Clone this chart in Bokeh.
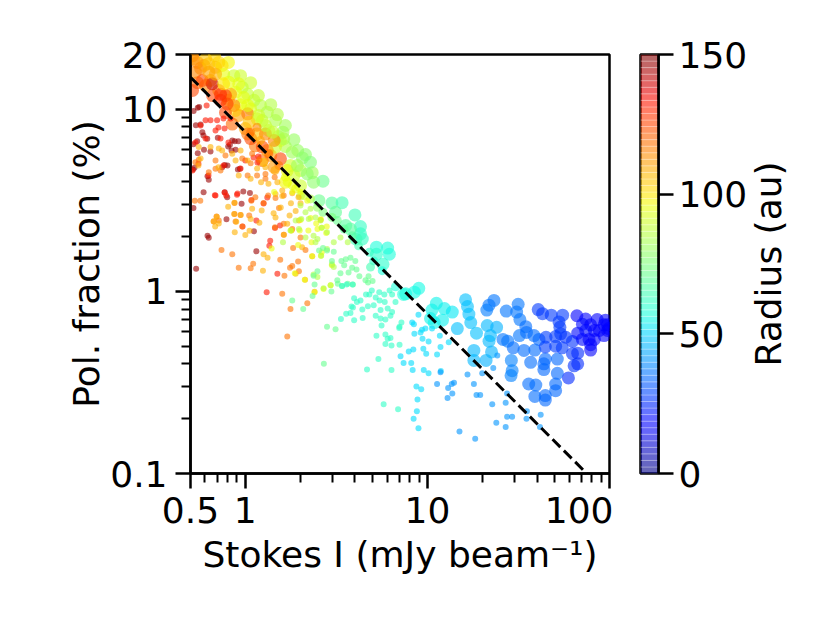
import numpy as np
from bokeh.plotting import figure
from bokeh.layouts import row
from bokeh.core.properties import value
from bokeh.models import FixedTicker, CustomJSTickFormatter, LinearColorMapper, ColumnDataSource
from bokeh.embed import file_html
from bokeh.resources import INLINE

# ---------- data: Stokes I (mJy/beam), polarisation fraction (%), radius (au) ----------
maroon_I = [.535,.568,.581,.589,.544,.519,.618,.706,.848,.875,.823,.805,.915,.84,.884,.548,.593,.644,.515,.526,.771,.798,.747,.91,.934,.62,.63,.59,.771,.975,1.06,.795,.954,.519,.788,.62,.63,1.115,.537,.548,.52,.558,1.15]
maroon_P = [8.18,8.25,7.49,7.18,6.68,6.43,6.89,6.97,6.74,6.68,6.39,6.25,6.68,5.94,5.99,5.74,5.99,5.87,4.67,4.77,4.95,4.91,4.81,4.67,4.71,4.29,4.1,3.5,3.5,3.54,3.47,3.29,3.03,2.87,2.49,2.02,1.97,2.14,1.33,10.2,9.8,10.3,1.66]
maroon_R = 146

red_I = [.613,.644,.605,.70,.759,.568,.83,.769,.686,.712,.605,.731,.532,.808,1.0,1.11,1.18,1.165,.553,.513,.759,.942,.628,.686,.769,.906,.68,.785,.90,1.08,1.26,1.32,1.15,.966,1.455,1.55,1.37,1.355,1.31,1.5]
red_P = [10.5,8.7,8.7,8.7,8.9,8.15,8.9,7.84,7.65,7.94,6.91,6.91,6.57,6.57,5.23,5.44,5.5,5.1,5.03,4.61,4.91,4.73,4.33,3.36,3.49,3.45,3.37,3.36,3.4,3.18,3.04,3.28,2.45,2.27,2.23,2.3,1.90,1.78,.99,1.25]
red_R = 133

orange_I = [.555,.532,.528,.566,.63,.686,.731,.686,.778,1.09,.962,1.07,1.195,1.29,1.03,1.16,1.29,1.45,1.335,1.135,1.465,1.625,1.08,.872,1.26,1.53,.872,.942,.695,.67,.715,.884,.962,1.05,1.455,1.625,1.81,.74,.848,.92,1.07,1.105,1.555,1.76,1.81,1.95,1.97,1.64,1.595,1.77,1.70,2.19,1.83,2.14,1.625,2.01]
orange_P = [5.28,5.12,3.15,3.15,4.51,4.71,4.61,5.23,5.57,5.71,5.37,5.06,5.28,4.42,4.33,4.33,4.15,4.24,3.36,3.29,3.26,3.36,3.15,3.06,3.06,2.87,2.66,2.63,2.58,2.42,2.45,2.42,2.27,2.61,2.25,2.35,2.2,1.69,1.6,1.35,1.34,1.42,1.49,1.35,1.38,1.46,1.29,1.22,.97,.80,.565,.86,1.73,1.69,2.05,1.98]
orange_R = 118

amber_I = [.805,.872,.942,.869,.892,.697,.67,.715,.683,.875,1.0,1.055,1.195,1.07,1.09,1.23,1.43,1.565,1.465,1.63,1.26,1.325,1.25,2.13,2.4,1.89,1.75,1.89,1.70,1.97,2.01,1.96,1.78,1.595,1.465,1.795,2.05,2.33,2.59,1.81,.746,.848,.942,.884,1.03,1.16,1.29,.92,1.07,1.22,1.34,1.50,1.595,.568,.553,.555,.644,.715,.712]
amber_P = [2.92,3.07,2.63,2.66,2.41,2.57,2.43,2.36,2.27,2.11,2.04,2.15,2.38,2.5,2.84,2.78,2.69,2.89,2.55,2.05,1.6,1.53,1.3,1.16,.997,1.25,2.61,2.76,2.35,2.45,3.05,3.29,3.05,3.34,3.43,2.16,1.75,1.56,2.47,3.46,5.94,5.71,5.94,5.23,5.23,4.73,4.80,4.33,4.15,3.98,3.9,3.98,3.58,5.37,4.91,6.2,6.2,6.09,4.81]
amber_R = 108

yellow_I = [1.395,1.78,1.99,2.22,1.95,2.33,2.6,2.78,2.8,2.49,2.62,2.6,2.28,2.01,2.31,2.12,2.4,1.87,2.94,2.69,2.45,1.44,1.81,2.19,2.01,2.63,2.99]
yellow_P = [1.72,2.16,2.16,2.16,1.8,1.56,1.57,2.09,2.27,2.2,2.24,2.49,2.53,2.47,1.86,1.16,.99,1.26,1.08,1.03,2.36,3.51,3.51,3.15,3.51,1.64,1.39]
yellow_R = 96

lime_I = [2.01,2.14,1.89,2.03,2.28,2.43,2.59,2.23,2.81,2.63,2.49,2.37,2.43,1.77,1.97,1.61,2.14,2.81,3.06,3.33,3.65,2.61,2.37,2.49,2.99,2.94,2.69,3.06]
lime_P = [2.96,2.72,2.45,2.5,2.84,2.55,2.45,2.5,2.11,2.24,1.94,2.02,1.86,2.16,2.2,1.86,1.98,1.71,1.86,1.98,1.86,1.57,1.24,1.2,1.41,1.08,1.04,1.36]
lime_R = 85

green_I = [2.54,2.67,2.81,3.06,2.99,3.37,3.56,3.78,3.49,4.02,2.49,2.37,2.4,2.97,2.34,1.81,2.08,2.81,3.13,2.7,3.2,3.22,3.33,3.69,3.86,4.08,3.65,3.4,3.9,4.72,4.23,4.75,4.57,5.0]
green_P = [1.68,1.73,1.68,1.65,1.47,1.47,1.5,1.53,1.39,1.47,1.29,1.22,1.09,1.0,.945,.892,.80,.64,.62,.40,1.15,1.10,1.26,1.27,1.35,1.32,1.1,1.07,1.09,1.12,1.21,1.21,1.15,1.14]
green_R = 71

mint_I = [3.60,3.88,3.4,3.96,4.29,4.1,3.83,3.9,4.71,5.07,4.39,3.58,3.78,3.35,3.96,4.41,5.2,5.53,6.05,6.4,5.53,5.88,6.27,5.46,5.83,5.2,4.6,4.8,4.95,5.44,5.8,6.2,6.4,6.68,5.6,5.25,5.88,6.27,6.05,5.88,6.35,7.03,7.03,7.0,7.2,5.38,4.66,6.35,5.75,6.9]
mint_P = [1.09,1.09,1.07,.916,.89,.875,.825,.815,.83,.84,.795,.755,.76,.705,.695,.715,.735,.79,.805,.77,.71,.70,.735,.89,.875,.925,.963,.963,1.01,.99,.963,1.01,.963,.875,.65,.57,.58,.555,.55,.515,.505,.51,.64,.63,.675,.425,.373,.37,.24,.225]
mint_R = 61

cyan_I = [8.93,8.25,8.43,9.35,10.6,9.75,8.48,9.17,9.4,10.15,11.7,13.1,11.8,11.3,9.85,9.5,8.37,7.9,7.12,8.15,7.4,8.3,9.55,10.15,11.85,8.7,9.25,8.82,8.75,8.4,8.93]
cyan_P = [.745,.675,.66,.615,.625,.625,.585,.595,.55,.53,.57,.525,.495,.45,.455,.485,.48,.468,.44,.405,.405,.37,.37,.355,.365,.30,.29,.255,.22,.20,.177]
cyan_R = 51

sky_I = [11.3,13.0,13.6,14.0,13.7,12.9,11.8,16.6,20.0,18.0,18.6,19.5,23.0,22.7,26.9,27.4,29.2,35.2,35.0,41.9,23.9,26.9,15.0,18.3,41.5,27.4,24.2]
sky_P = [.31,.295,.31,.315,.275,.26,.36,.35,.355,.31,.27,.27,.38,.24,.245,.205,.205,.22,.20,.21,.19,.18,.17,.155,.18,.275,.445]
sky_R = 41

mid_I = [1.07,1.21,1.345,1.53,1.16,1.66,1.81,2.01,1.455,1.26,1.70,1.89,2.09,2.28,2.49,2.67,2.99,3.2,3.49,3.86,4.19,4.8,5.07,5.65,4.87,6.68]
mid_P = [7.49,6.74,5.7,4.91,7.97,4.24,3.81,3.36,4.61,5.12,3.98,3.66,3.36,3.22,2.9,2.72,2.55,2.45,2.2,2.02,1.78,1.64,1.47,1.3,1.36,1.06]
mid_R = [118,110,120,118,115,95,95,88,110,105,95,95,90,85,80,75,75,72,70,68,65,62,60,58,65,58]

big_I = [.808,.942,1.07,1.18,1.38,1.5,1.66,1.94,2.14,1.66,1.52,1.24,.942,.884,.808,.661,.605,.546,.546,.644,.778,1.135,1.0,1.38,1.24,1.07,1.77,1.56,2.01,2.01,2.33,.513,.677,.513,.568,
         .52,.605,.532,.593,.686,.746,.76,.865,.812,.962,.884,1.03,1.115,1.21,1.32,1.465,1.61,1.85,1.81,2.06,2.28,2.19,2.67,2.37,1.625,1.465,1.345,1.16,1.07,.98,.83,.778,.715,.865,.795,.731,.92,1.03,1.05,1.16,1.29,1.44,1.32,1.56,1.44,.658,.581,.731,.848,1.03,1.24,1.70,1.66,1.85,.63,.715,.686,.63,.76,.92,1.03,1.185,1.29,1.415,1.93,
         4.0,4.29,4.29,4.39,3.56,5.25,6.05,6.18,5.25,5.7,2.99,3.4,3.13,2.54,7.6,3.78,4.05,
         8.97,8.48,7.4,10.6,11.2,12.4,13.7,10.4,12.1,10.9,
         16.2,16.6,16.9,17.3,14.6,18.6,21.3,24,22.2,21.8,22.5,21,18,18,
         23.2,21.8,21.2,27.1,31.5,30.9,32.2,26,27.6,29.6,33.9,38.9,32,35,34.7,38.5,41,28.9,29.2,28.8,36.9,43.6,44.4,43.6,51.7,51.7,36,39.4,38.9,44.4,44.4,50.6,50.6,
         40.6,42.9,47.9,55.3,52.8,53.4,53.9,50.6,44.4,50.6,55,62.6,62.6,66.9,63.9,66.9,59.5,44.8,57.5,
         66.2,74,85.6,71,78.8,95,93.3,97.5,93.3,82.6,74,66.9,71,77.2,82.6,78.8,78.8,97.5,88,99]
big_P = [18.1,15.3,14,11.9,10.6,9.36,8.15,5.94,5.64,6.25,7.09,8.68,10.6,9.85,11.2,11.9,13.5,18.1,14,14.4,9.6,6.3,7.84,5.57,5.23,6.91,4.91,6.74,4.61,3.81,4.49,19.7,19.7,12.7,16.8,
         18.9,18.9,16,17.4,17,17.4,15.6,15.3,14.1,13.2,12.4,12.1,11.2,10.5,9.65,8.68,7.49,6.8,5.81,5.41,5.12,4.42,4.03,3.98,6.89,6.2,7.65,8.87,10.05,11.6,12.1,11.9,12.7,10.5,10.7,11.2,9.25,9.45,8.5,7.33,7.33,6.74,5.94,5.35,4.81,13.8,14.4,12.1,8.3,7.33,6.2,4.61,3.98,4.33,17.8,18.1,15.6,16,13.8,13.8,10.5,9.25,8.15,7.49,4.91,
         2.63,2.27,2.07,1.94,2.3,1.75,1.73,1.6,1.6,1.41,3.06,3.07,2.72,3.15,.97,2.2,1.94,
         1.04,.99,.963,.79,.86,.805,.77,.71,.695,.674,
         .90,.825,.75,.674,.625,.59,.65,.635,.572,.533,.465,.418,.474,.418,
         .892,.84,.79,.78,.85,.77,.70,.545,.533,.49,.474,.476,.572,.595,.64,.572,.545,.418,.367,.345,.408,.40,.425,.372,.425,.355,.31,.306,.265,.268,.253,.31,.285,
         .795,.755,.74,.74,.68,.635,.585,.565,.495,.50,.49,.531,.455,.458,.39,.40,.335,.56,.56,
         .735,.705,.70,.66,.655,.695,.655,.61,.572,.61,.61,.59,.545,.545,.545,.51,.476,.655,.61,.625]
big_R = [97,90,90,88,85,85,82,80,78,85,86,90,95,100,105,125,115,115,120,110,125,118,110,112,120,125,90,90,85,90,82,115,103,125,115,
         112,105,115,112,108,100,95,90,95,88,95,88,88,86,85,84,82,80,82,78,76,78,72,78,84,90,90,92,92,94,110,125,118,115,125,128,110,118,105,105,115,115,110,125,112,140,125,130,120,118,125,97,97,90,105,103,108,110,100,94,94,90,88,88,82,
         64,62,62,62,68,58,58,58,60,60,68,65,70,72,56,68,64,
         56,56,58,55,55,54,53,55,54,55,
         47,47,47,47,47,47,46,45,46,46,45,45,46,46,
         36,36,37,36,36,36,36,36,36,35,35,35,36,35,35,35,34,38,38,38,35,34,34,34,34,34,35,35,35,34,34,34,34,
         27,27,27,27,27,27,27,27,28,28,27,26,26,25,26,25,25,28,26,
         19,19,19,20,19,18,18,17,18,19,20,20,20,19,19,19,19,18,18,17]

line_I = [0.5, 75]
line_P = [15, 0.1]

x_major = [0.5, 1, 10, 100]
x_minor = [.6, .7, .8, .9, 2, 3, 4, 5, 6, 7, 8, 9, 20, 30, 40, 50, 60, 70, 80, 90]
y_major = [0.1, 1, 10, 20]
y_minor = [.2, .3, .4, .5, .6, .7, .8, .9, 2, 3, 4, 5, 6, 7, 8, 9]
cbar_ticks = [0, 50, 100, 150]

# ---------- colours ----------
def jet(t):
    r = np.interp(t, [0, .35, .66, .89, 1], [0, 0, 1, 1, .5])
    g = np.interp(t, [0, .125, .375, .64, .91, 1], [0, 0, 1, 1, 0, 0])
    b = np.interp(t, [0, .11, .34, .65, 1], [.5, 1, 1, 0, 0])
    return "#%02x%02x%02x" % (int(r * 255), int(g * 255), int(b * 255))

palette = [jet(t) for t in np.linspace(0, 1, 256)]
mapper = LinearColorMapper(palette=palette, low=0, high=150)

FONT = "DejaVu Sans"
FS = "36px"
ALPHA = 0.6


def style_axis(ax, major_out=15, minor_out=9):
    ax.axis_line_width = 2.5
    ax.major_tick_line_width = 2.5
    ax.minor_tick_line_width = 2
    ax.major_tick_out = major_out
    ax.major_tick_in = 0
    ax.minor_tick_out = minor_out
    ax.minor_tick_in = 0
    ax.major_label_text_font = FONT
    ax.major_label_text_font_size = FS
    ax.major_label_text_color = "black"
    ax.major_label_standoff = 8
    ax.axis_label_text_font = FONT
    ax.axis_label_text_font_size = FS
    ax.axis_label_text_font_style = "normal"
    ax.axis_label_text_color = "black"


p = figure(width=613, height=615, x_axis_type="log", y_axis_type="log",
           x_range=(0.5, 100), y_range=(0.1, 20),
           output_backend="svg", toolbar_location=None,
           min_border_left=190, min_border_right=4, min_border_top=54, min_border_bottom=142)
p.grid.visible = False
p.outline_line_color = "black"
p.outline_line_width = 2.5
p.background_fill_color = "white"

fmt = CustomJSTickFormatter(code="return tick.toString()")
p.xaxis.ticker = FixedTicker(ticks=x_major, minor_ticks=x_minor)
p.yaxis.ticker = FixedTicker(ticks=y_major, minor_ticks=y_minor)
p.xaxis.formatter = fmt
p.yaxis.formatter = fmt
p.xaxis.axis_label = "Stokes I (mJy beam⁻¹)"
p.yaxis.axis_label = "Pol. fraction (%)"
style_axis(p.xaxis[0])
style_axis(p.yaxis[0])
p.xaxis.axis_label_standoff = 8
p.yaxis.axis_label_standoff = 0

big_src = ColumnDataSource(dict(I=big_I, P=big_P, R=big_R))
p.scatter("I", "P", source=big_src, size=13, line_color=None, fill_alpha=ALPHA,
          fill_color={"field": "R", "transform": mapper})
mid_src = ColumnDataSource(dict(I=mid_I, P=mid_P, R=mid_R))
p.scatter("I", "P", source=mid_src, size=9, line_color=None, fill_alpha=ALPHA,
          fill_color={"field": "R", "transform": mapper})

bands = [(maroon_I, maroon_P, maroon_R), (red_I, red_P, red_R), (orange_I, orange_P, orange_R),
         (amber_I, amber_P, amber_R), (yellow_I, yellow_P, yellow_R), (lime_I, lime_P, lime_R),
         (green_I, green_P, green_R), (mint_I, mint_P, mint_R), (cyan_I, cyan_P, cyan_R),
         (sky_I, sky_P, sky_R)]
for xs, ys, r in bands:
    src = ColumnDataSource(dict(I=xs, P=ys, R=[r] * len(xs)))
    p.scatter("I", "P", source=src, size=6, line_color=None, fill_alpha=ALPHA,
              fill_color={"field": "R", "transform": mapper})

p.line(line_I, line_P, line_color="black", line_width=3, line_dash="11 5")

# ---------- colour bar as its own small figure ----------
cb = figure(width=137, height=615, x_range=(0, 1), y_range=(0, 150),
            y_axis_location="right", output_backend="svg", toolbar_location=None,
            min_border_left=27, min_border_right=89, min_border_top=54, min_border_bottom=142)
cb.grid.visible = False
cb.xaxis.visible = False
cb.outline_line_color = "black"
cb.outline_line_width = 2.5
edges = np.linspace(0, 150, 65)
mids = (edges[:-1] + edges[1:]) / 2
cb.quad(left=0, right=1, bottom=edges[:-1], top=edges[1:],
        fill_color=[jet(m / 150) for m in mids], fill_alpha=ALPHA,
        line_color="white", line_alpha=0.25, line_width=1)
cb.yaxis.ticker = FixedTicker(ticks=cbar_ticks)
cb.yaxis.formatter = fmt
style_axis(cb.yaxis[0])
cb.yaxis[0].major_label_standoff = 5

# ---------- colour bar title, reading upwards, in a narrow blank figure ----------
ttl = figure(width=44, height=615, x_range=(0, 44), y_range=(0, 150),
             x_axis_location=None, y_axis_location=None,
             output_backend="svg", toolbar_location=None,
             min_border_left=0, min_border_right=0, min_border_top=54, min_border_bottom=142)
ttl.grid.visible = False
ttl.outline_line_color = None
ttl.text(x=[18], y=[75], text=["Radius (au)"], angle=float(np.pi / 2),
         text_align="center", text_baseline="middle",
         text_font=value(FONT), text_font_size=value(FS), text_color="black")

open("out.html", "w").write(file_html(row(p, cb, ttl, spacing=0), INLINE))
